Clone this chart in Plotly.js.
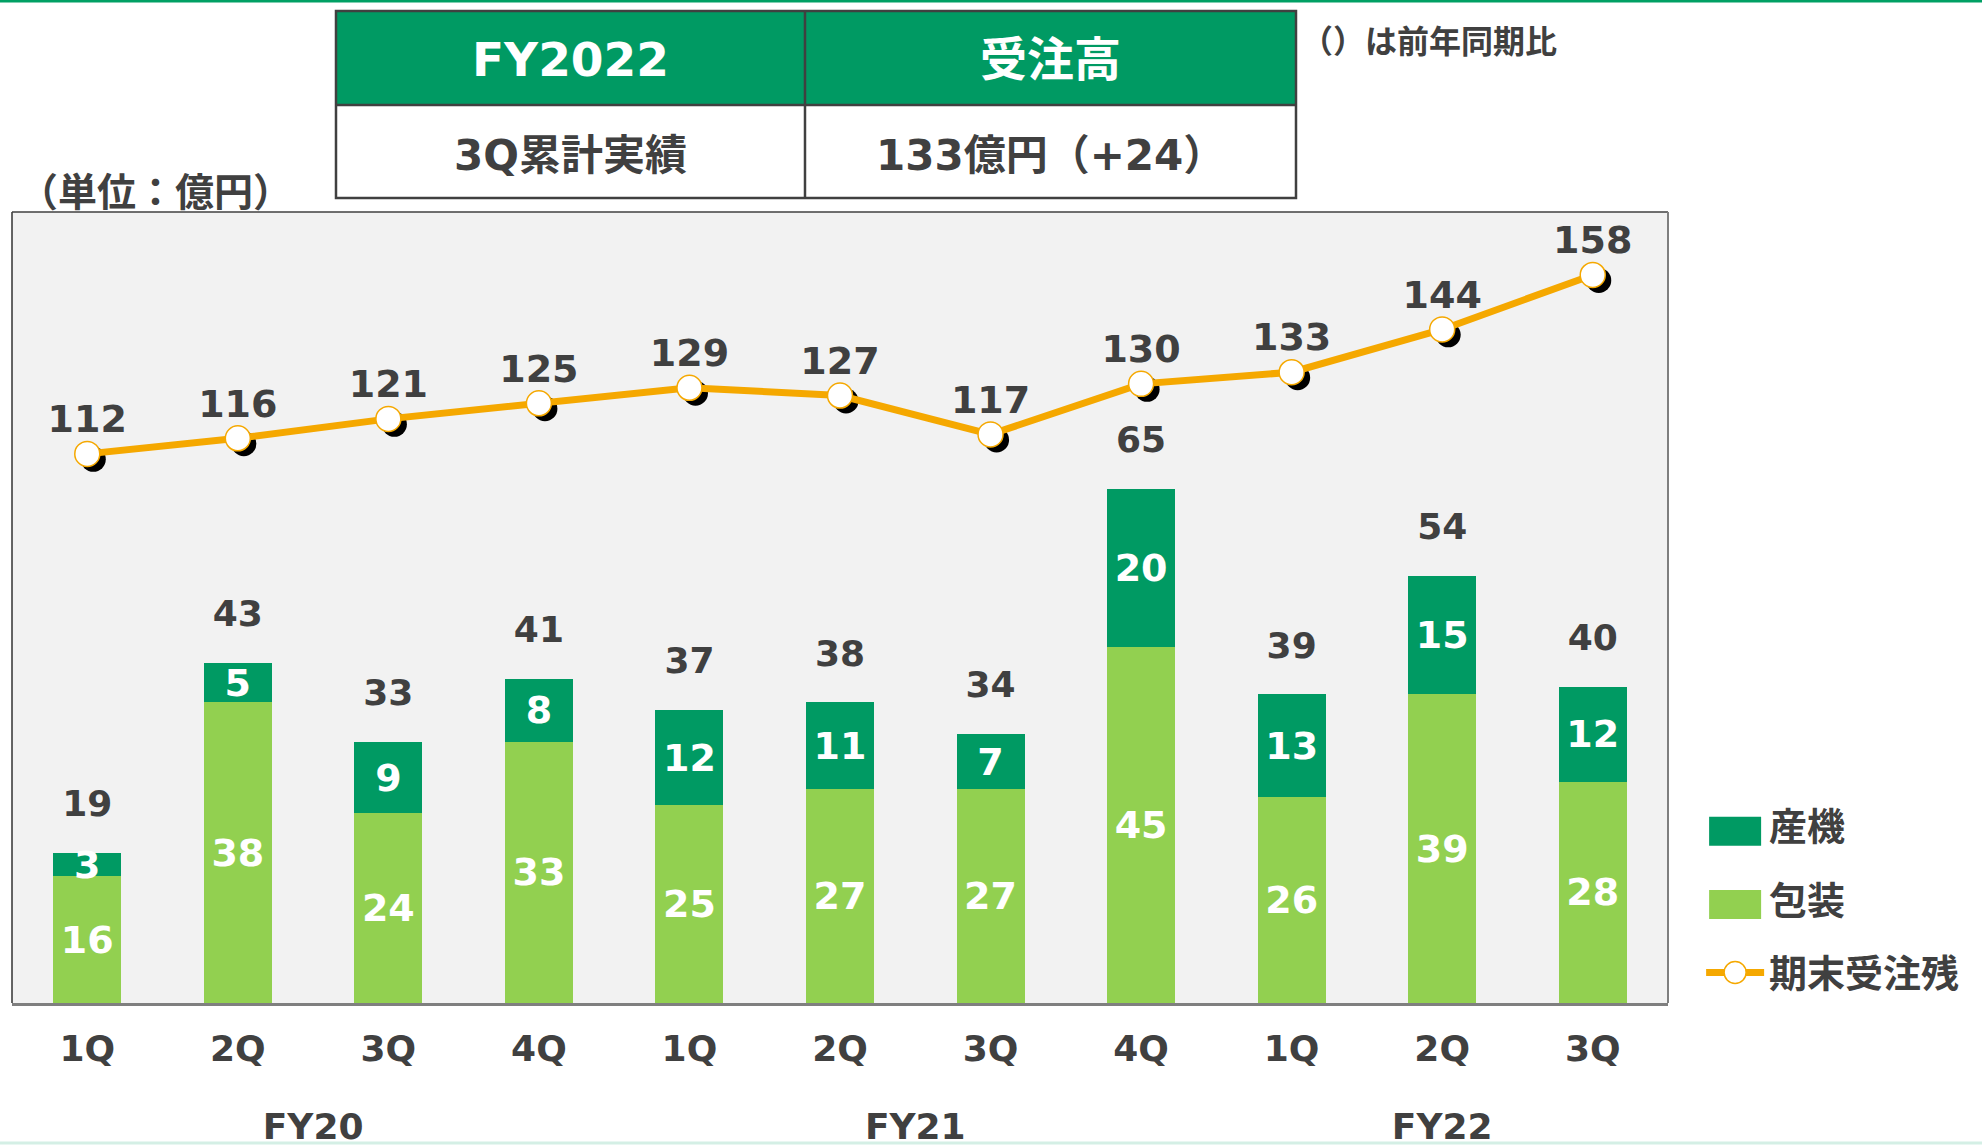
<!DOCTYPE html>
<html><head><meta charset="utf-8">
<script src="https://cdn.plot.ly/plotly-3.0.1.min.js"></script>
<style>html,body{margin:0;padding:0;background:#fff}</style>
</head><body><div id="chart" style="width:1982px;height:1145px"></div>
<script>
// ---- data ----
const fiscalYears = ['FY20','FY20','FY20','FY20','FY21','FY21','FY21','FY21','FY22','FY22','FY22'];
const quarters    = ['1Q','2Q','3Q','4Q','1Q','2Q','3Q','4Q','1Q','2Q','3Q'];
const packaging   = [16,38,24,33,25,27,27,45,26,39,28];          // 包装
const industrial  = [3,5,9,8,12,11,7,20,13,15,12];               // 産機
const backlog     = [112,116,121,125,129,127,117,130,133,144,158]; // 期末受注残
const seriesNames = ['包装','産機','期末受注残'];
const tableHeader = ['FY2022','受注高'];
const tableRow    = ['3Q累計実績','133億円（+24）'];
const unitNote    = '（単位：億円）';
const yoyNote     = '（）は前年同期比';

// ---- build ----
const totals = packaging.map((v,i)=>v+industrial[i]);
const X = [fiscalYears.map(f=>'<br>'+f), quarters];
const FONT = 'DejaVu Sans, Noto Sans CJK JP, sans-serif';
const DARK = '#404040';
const GREEN = '#009A63', LIGHT = '#92D050', ORANGE = '#F5A800';

const D = 0.7966; // plot domain top
const traces = [
  {type:'bar', name:seriesNames[0], x:X, y:packaging, marker:{color:LIGHT},
   text:packaging.map(String), textposition:'inside', insidetextanchor:'middle', textangle:0,
   constraintext:'none', textfont:{color:'#fff', size:38, weight:'bold', family:FONT},
   legendgroup:'a', legendrank:2, hoverinfo:'skip'},
  {type:'bar', name:seriesNames[1], x:X, y:industrial, marker:{color:GREEN},
   text:industrial.map(String), textposition:'inside', insidetextanchor:'middle', textangle:0,
   constraintext:'none', textfont:{color:'#fff', size:38, weight:'bold', family:FONT},
   legendgroup:'b', legendrank:1, hoverinfo:'skip'},
  {type:'scatter', mode:'markers+text', x:X, y:totals, text:totals.map(String),
   textposition:'top center', marker:{size:43, opacity:0}, showlegend:false, hoverinfo:'skip',
   textfont:{color:DARK, size:36, weight:'bold', family:FONT}, cliponaxis:false},
  {type:'scatter', mode:'markers', x:X, y:backlog, xaxis:'x2', yaxis:'y2',
   marker:{size:25, color:'#000'}, showlegend:false, hoverinfo:'skip'},
  {type:'scatter', mode:'lines+markers', name:seriesNames[2], x:X, y:backlog, xaxis:'x3', yaxis:'y3',
   line:{color:ORANGE, width:7}, marker:{size:25, color:'#fff', line:{color:ORANGE, width:1.5}},
   legendgroup:'c', legendrank:3, hoverinfo:'skip'},
  {type:'scatter', mode:'markers+text', x:X, y:backlog, xaxis:'x3', yaxis:'y3',
   text:backlog.map(String), textposition:'top center', cliponaxis:false,
   textfont:{color:DARK, size:38, weight:'bold', family:FONT},
   marker:{size:18, opacity:0}, showlegend:false, hoverinfo:'skip'}
];

// table geometry (paper coords)
const TX = [0.19565, 0.47886, 0.77536], TY = [0.81067, 0.90433, 0.99899];

const xr = [-0.5, 10.5], yr = [0, 100], y3r = [-29.2, 174.2];
const layout = {
  width:1982, height:1145, margin:{l:12, r:314, t:10, b:142},
  paper_bgcolor:'#fff', plot_bgcolor:'#F2F2F2', barmode:'stack', bargap:0.548,
  hovermode:false, font:{family:FONT, color:DARK},
  xaxis:{type:'multicategory', range:xr, showdividers:false, ticks:'', showgrid:false,
    showline:true, linecolor:'#7f7f7f', linewidth:2.5, zeroline:false, ticklabelstandoff:12,
    tickfont:{size:36, weight:'bold', color:DARK, family:FONT}},
  yaxis:{domain:[0,D], range:yr, visible:false, showgrid:false, zeroline:false},
  xaxis2:{type:'multicategory', overlaying:'x', range:[xr[0]-0.04, xr[1]-0.04], visible:false},
  yaxis2:{domain:[0,D], overlaying:'y', range:[y3r[0]+1.4, y3r[1]+1.4], visible:false},
  xaxis3:{type:'multicategory', overlaying:'x', range:xr, visible:false},
  yaxis3:{domain:[0,D], overlaying:'y', range:y3r, visible:false},
  legend:{x:1.02, xanchor:'left', y:0.21, yanchor:'top', traceorder:'grouped', tracegroupgap:21,
    itemwidth:58, bgcolor:'rgba(0,0,0,0)', font:{size:38, weight:'bold', color:DARK, family:FONT}},
  shapes:[
    {type:'line', xref:'paper', yref:'paper', x0:0, x1:0, y0:0, y1:D, line:{color:'#000', width:1.2}},
    {type:'line', xref:'paper', yref:'paper', x0:0, x1:1, y0:D, y1:D, line:{color:'#404040', width:1.5}},
    {type:'line', xref:'paper', yref:'paper', x0:1, x1:1, y0:0, y1:D, line:{color:'#7f7f7f', width:2}},
    {type:'line', xref:'paper', yref:'paper', x0:-0.01, x1:1.2, y0:1.009, y1:1.009, line:{color:'#00A064', width:3}},
    {type:'line', xref:'paper', yref:'paper', x0:-0.01, x1:1.2, y0:-0.141, y1:-0.141, line:{color:'#D4EFE5', width:3}},
    // table
    {type:'rect', xref:'paper', yref:'paper', x0:TX[0], x1:TX[2], y0:TY[1], y1:TY[2], fillcolor:GREEN, line:{width:0}},
    {type:'rect', xref:'paper', yref:'paper', x0:TX[0], x1:TX[2], y0:TY[0], y1:TY[1], fillcolor:'#fff', line:{width:0}},
    {type:'rect', xref:'paper', yref:'paper', x0:TX[0], x1:TX[2], y0:TY[0], y1:TY[2], line:{color:DARK, width:2.5}},
    {type:'line', xref:'paper', yref:'paper', x0:TX[0], x1:TX[2], y0:TY[1], y1:TY[1], line:{color:DARK, width:2.5}},
    {type:'line', xref:'paper', yref:'paper', x0:TX[1], x1:TX[1], y0:TY[0], y1:TY[2], line:{color:DARK, width:2.5}}
  ],
  annotations:[
    {xref:'paper', yref:'paper', x:0.0864, y:0.8167, xanchor:'center', yanchor:'middle',
     text:'<b>'+unitNote+'</b>', showarrow:false, font:{size:39, color:DARK, family:FONT}},
    {xref:'paper', yref:'paper', x:0.8557, y:0.9678, xanchor:'center', yanchor:'middle',
     text:'<b>'+yoyNote+'</b>', showarrow:false, font:{size:32, color:DARK, family:FONT}}
  ].concat(tableHeader.map((t,i)=>({xref:'paper', yref:'paper', x:(TX[i]+TX[i+1])/2, y:0.9522,
     xanchor:'center', yanchor:'middle', yshift:-2, text:'<b>'+t+'</b>', showarrow:false,
     font:{size:47, color:'#fff', family:FONT}})))
   .concat(tableRow.map((t,i)=>({xref:'paper', yref:'paper', x:(TX[i]+TX[i+1])/2, y:0.8556,
     xanchor:'center', yanchor:'middle', yshift:-2, text:'<b>'+t+'</b>', showarrow:false,
     font:{size:42, color:DARK, family:FONT}})))
};

function tweakLegend(){
  const gd = document.getElementById('chart');
  gd.querySelectorAll('g.legendpoints path').forEach(p=>{
    const cls = p.getAttribute('class') || '';
    if(cls.indexOf('legendbar') >= 0 || cls.indexOf('legendundefined') >= 0) {
      p.setAttribute('d','M26,20H-26V-9H26Z');
    } else if(cls.indexOf('scatterpts') >= 0) {
      p.setAttribute('d','M11,0A11,11 0 1,1 0,-11A11,11 0 0,1 11,0Z');
    }
  });
}
const pr = Plotly.newPlot('chart', traces, layout, {staticPlot:true, displayModeBar:false});
tweakLegend();
document.getElementById('chart').on && document.getElementById('chart').on('plotly_afterplot', tweakLegend);
if(pr && pr.then) pr.then(tweakLegend);
setTimeout(tweakLegend, 0); setTimeout(tweakLegend, 200); setTimeout(tweakLegend, 800);
</script></body></html>
